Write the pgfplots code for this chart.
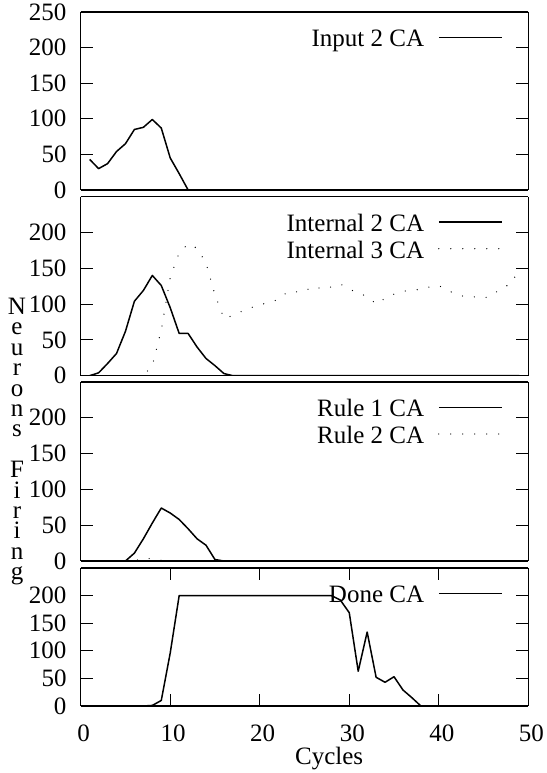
\documentclass[border=0pt]{standalone}
\usepackage{fontspec}
\setmainfont{Liberation Serif}
\usepackage{pgfplots}
\pgfplotsset{compat=1.18}

\tikzset{
  ca/.style={black, line width=1.5pt, line join=round},
  cadot/.style={black, line width=1.3pt, line cap=round, dash pattern=on 0pt off 12pt},
}
\pgfplotsset{
  panel/.style={
    scale only axis, width=447.6pt,
    xmin=0, xmax=50, ymin=0, ymax=250,
    anchor=south west,
    tick align=inside, major tick length=12pt,
    separate axis lines,
    axis line style={line width=1.2pt},
    tick style={line width=1pt, black},
    yticklabel style={anchor=east, inner sep=0pt, xshift=-14pt},
    xticklabel style={anchor=north, inner sep=0pt, yshift=-19pt, xshift=3pt},
    /pgf/number format/assume math mode=true,
    xtick=\empty, ytick={0,50,...,200},
  },
}

% key text on the right, line sample after it
\newcommand\legline[3]{%
  \draw[#2] ([xshift=-89.5pt,yshift=-#1]rel axis cs:1,1) -- ++(63.5pt,0pt);
  \node[anchor=base east, inner sep=0pt] at ([xshift=-104pt,yshift=-#1-9.5pt]rel axis cs:1,1) {#3};
}

\begin{document}
\fontsize{25}{30}\selectfont
\begin{tikzpicture}
\useasboundingbox (0,0) rectangle (546pt,773pt);

% panel 1: input
\begin{axis}[panel, at={(80.7pt,583pt)}, height=178pt, ytick={0,50,...,250}]
\addplot[ca] coordinates {
  (1,43)(2,30)(3,37)(4,54)(5,65)(6,85)(7,88)(8,99)(9,87)(10,45)(11,23)(12,0)
  (13,0)(20,0)(30,0)(40,0)(49,0)
};
\legline{25.3pt}{ca}{Input 2 CA}
\end{axis}

% panel 2: internal
\begin{axis}[panel, at={(80.7pt,397.3pt)}, height=179pt]
\addplot[ca] coordinates {
  (1,0)(2,4)(3,17)(4,31)(5,62)(6,104)(7,119)(8,140)(9,126)(10,95)(11,59)(12,59)
  (13,40)(14,24)(15,14)(16,3)(17,0)(20,0)(30,0)(40,0)(49,0)
};
\addplot[cadot] coordinates {
  (1,0)(2,0)(3,0)(4,0)(5,0)(6,0)(7,0)(8,14)(9,64)(10,137)(11,172)(12,184)
  (13,178)(14,157)(15,113)(16,80)(17,84)(18,90)(19,95)(20,99)(21,102)(22,106)
  (23,116)(24,117)(25,118)(26,125)(27,121)(28,124)(29,128)(30,121)(31,115)
  (32,111)(33,100)(34,108)(35,114)(36,118)(37,119)(38,121)(39,124)(40,126)
  (41,119)(42,114)(43,110)(44,110)(45,108)(46,113)(47,122)(48,128)(49,148)
};
\legline{25.3pt}{ca}{Internal 2 CA}
\legline{52pt}{cadot}{Internal 3 CA}
\end{axis}

% panel 3: rules
\begin{axis}[panel, at={(80.7pt,212pt)}, height=179pt]
\addplot[ca] coordinates {
  (1,0)(2,0)(3,0)(4,0)(5,0)(6,11)(7,31)(8,53)(9,74)(10,67)(11,58)(12,45)
  (13,31)(14,22)(15,2)(16,0)(20,0)(30,0)(40,0)(49,0)
};
\addplot[cadot] coordinates {
  (1,0)(2,0)(3,0)(4,0)(5,0)(6,0)(7,4)(8,3)(9,1)(10,0)(20,0)(30,0)(40,0)(49,0)
};
\legline{25.3pt}{ca}{Rule 1 CA}
\legline{52pt}{cadot}{Rule 2 CA}
\end{axis}

% panel 4: done
\begin{axis}[panel, at={(80.7pt,67pt)}, height=138pt,
  xtick={0,10,...,50},
  xlabel={Cycles},
  xlabel style={at={(axis description cs:0.555,0)}, anchor=north, inner sep=0pt, yshift=-41pt}]
\addplot[ca] coordinates {
  (1,0)(2,0)(3,0)(4,0)(5,0)(6,0)(7,0)(8,1)(9,10)(10,96)(11,200)(20,200)(28,200)
  (29,192)(30,169)(31,63)(32,134)(33,52)(34,43)(35,53)(36,29)(37,15)(38,0)
  (40,0)(49,0)
};
\legline{25.3pt}{ca}{Done CA}
\end{axis}

% stacked y label, one letter per line as in the original
\node[anchor=north, inner sep=0pt, align=center, font=\fontsize{25}{20.4}\selectfont]
  at (17pt,475pt) {N\\e\\u\\r\\o\\n\\s\\[20.4pt]F\\i\\r\\i\\n\\g};
\end{tikzpicture}
\end{document}
